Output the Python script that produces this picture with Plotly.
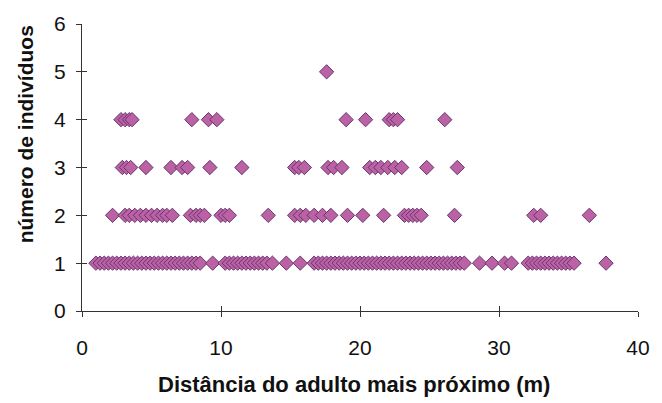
import plotly.graph_objects as go

# distance to nearest adult (m) for each count of individuals
dist_n1 = [1.0, 1.3, 1.6, 1.9, 2.2, 2.5, 2.8, 3.1, 3.4, 3.7, 4.0, 4.3, 4.6, 4.9, 5.2, 5.5,
           5.8, 6.1, 6.4, 6.7, 7.0, 7.3, 7.6, 7.9, 8.2, 8.5, 9.4, 10.3, 10.6, 10.9, 11.2,
           11.5, 11.8, 12.1, 12.4, 12.7, 13.0, 13.3, 13.7, 14.7, 15.7, 16.7, 17.0, 17.3,
           17.6, 17.9, 18.2, 18.5, 18.8, 19.1, 19.4, 19.7, 20.0, 20.3, 20.6, 20.9, 21.2,
           21.5, 21.8, 22.1, 22.4, 22.7, 23.0, 23.3, 23.6, 23.9, 24.2, 24.5, 24.8, 25.1,
           25.4, 25.7, 26.0, 26.3, 26.6, 26.9, 27.2, 27.5, 28.6, 29.5, 30.4, 30.9, 32.1,
           32.4, 32.7, 33.0, 33.3, 33.6, 33.9, 34.2, 34.5, 34.8, 35.1, 35.4, 37.7]
dist_n2 = [2.2, 3.1, 3.4, 3.8, 4.2, 4.6, 5.0, 5.4, 5.8, 6.1, 6.5, 7.8, 8.2, 8.5, 8.8,
           10.0, 10.3, 10.6, 13.4, 15.3, 15.7, 16.1, 16.7, 17.3, 17.9, 19.1, 20.2, 21.7,
           23.2, 23.5, 23.8, 24.1, 24.4, 26.8, 32.5, 33.0, 36.5]
dist_n3 = [2.9, 3.2, 3.5, 4.6, 6.4, 7.2, 7.6, 9.2, 11.5, 15.3, 15.6, 16.0, 17.7, 18.1,
           18.7, 20.7, 21.1, 21.5, 22.0, 22.5, 23.0, 24.8, 27.0]
dist_n4 = [2.8, 3.1, 3.4, 3.6, 7.9, 9.1, 9.7, 19.0, 20.4, 22.1, 22.4, 22.7, 26.1]
dist_n5 = [17.6]

counts = [1, 2, 3, 4, 5]
series = [dist_n1, dist_n2, dist_n3, dist_n4, dist_n5]

x_vals = []
y_vals = []
for c, d in zip(counts, series):
    x_vals += d
    y_vals += [c] * len(d)

x_ticks = [0, 10, 20, 30, 40]
y_ticks = [0, 1, 2, 3, 4, 5, 6]
x_title = "Distância do adulto mais próximo (m)"
y_title = "número de indivíduos"

fig = go.Figure()
fig.add_trace(go.Scatter(
    x=x_vals, y=y_vals, mode="markers",
    marker=dict(symbol="diamond", size=11, color="#bb62a4",
                line=dict(color="#6a3470", width=1)),
    showlegend=False, hoverinfo="x+y"))

font = "Liberation Sans, Arial, sans-serif"
axis_common = dict(showgrid=False, zeroline=False, showline=True, linecolor="#333",
                   linewidth=1, tickcolor="#333", ticklen=5, tickwidth=1)

fig.update_layout(
    width=662, height=403,
    margin=dict(l=82, r=15, t=20, b=92),
    paper_bgcolor="white", plot_bgcolor="white",
    font=dict(family=font, color="#111"),
    xaxis=dict(range=[0, 40], tickvals=x_ticks, ticks="outside",
               tickfont=dict(size=21), ticklabelstandoff=13, **axis_common),
    yaxis=dict(range=[0, 6], tickvals=y_ticks, ticks="outside",
               tickfont=dict(size=21), ticklabelstandoff=6, **axis_common),
    xaxis2=dict(range=[0, 40], tickvals=x_ticks, ticks="inside", overlaying="x",
                showticklabels=False, anchor="y", side="bottom", showgrid=False,
                zeroline=False, showline=False, tickcolor="#333", ticklen=5),
    yaxis2=dict(range=[0, 6], tickvals=y_ticks, ticks="inside", overlaying="y",
                showticklabels=False, anchor="x", side="left", showgrid=False,
                zeroline=False, showline=False, tickcolor="#333", ticklen=5),
    annotations=[
        dict(text="<b>" + x_title + "</b>", xref="paper", yref="paper",
             x=0.49, y=-0.255, xanchor="center", yanchor="middle",
             showarrow=False, font=dict(size=22, color="#111")),
        dict(text="<b>" + y_title + "</b>", xref="paper", yref="paper",
             x=-0.101, y=0.615, xanchor="center", yanchor="middle", textangle=-90,
             showarrow=False, font=dict(size=21, color="#111")),
    ],
)
fig.add_trace(go.Scatter(x=[None], y=[None], xaxis="x2", yaxis="y2",
                         showlegend=False, hoverinfo="skip"))

fig.write_html("out.html")
